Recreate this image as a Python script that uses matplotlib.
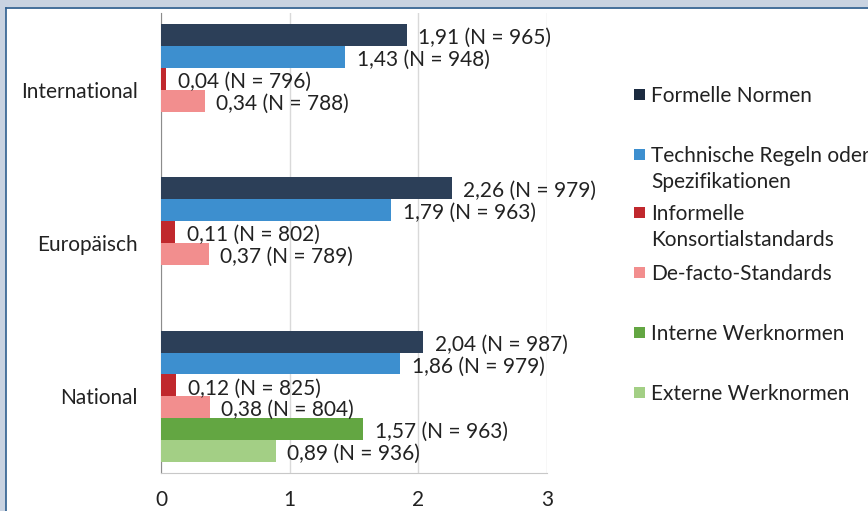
import numpy as np
import matplotlib.pyplot as plt
from matplotlib.patches import Rectangle

plt.rcParams['font.family'] = ['Lato', 'DejaVu Sans']

# Daten
gruppen = ['International', 'Europäisch', 'National']
serien = ['Formelle Normen', 'Technische Regeln oder\nSpezifikationen',
          'Informelle\nKonsortialstandards', 'De-facto-Standards',
          'Interne Werknormen', 'Externe Werknormen']
farben = ['#2c3f58', '#3d8fcf', '#c0282d', '#f28e8e', '#63a642', '#a3cf85']
legende_farben = ['#1c2b40', '#3d8fcf', '#c0282d', '#f28e8e', '#63a642', '#a3cf85']

formell = [1.91, 2.26, 2.04]
formell_n = [965, 979, 987]
technisch = [1.43, 1.79, 1.86]
technisch_n = [948, 963, 979]
informell = [0.04, 0.11, 0.12]
informell_n = [796, 802, 825]
defacto = [0.34, 0.37, 0.38]
defacto_n = [788, 789, 804]
intern = [None, None, 1.57]
intern_n = [None, None, 963]
extern = [None, None, 0.89]
extern_n = [None, None, 936]

werte = [formell, technisch, informell, defacto, intern, extern]
anzahl = [formell_n, technisch_n, informell_n, defacto_n, intern_n, extern_n]

textfarbe = '#222222'
fs = 15

fig = plt.figure(figsize=(8.68, 5.11), dpi=100)
fig.patch.set_facecolor('#c9d3e1')
# weisses Feld mit Rahmen
fig.add_artist(Rectangle((6/868, 0), 1, 1 - 9/511, transform=fig.transFigure,
                         facecolor='white', edgecolor='none', zorder=0))
fig.add_artist(plt.Line2D([6/868, 6/868], [0, 1 - 8.5/511], transform=fig.transFigure,
                          color='#2f5f8f', lw=1.2))
fig.add_artist(plt.Line2D([6/868, 1], [1 - 8.5/511, 1 - 8.5/511], transform=fig.transFigure,
                          color='#2f5f8f', lw=1.2))

ax = fig.add_axes([161/868, 1 - 473/511, 386/868, 460/511])
ax.set_facecolor('none')

h = 1 / 7
y = np.arange(len(gruppen))
for i, (vals, ns) in enumerate(zip(werte, anzahl)):
    for j in range(len(gruppen)):
        v = vals[j]
        if v is None:
            continue
        yy = y[j] - 3 * h + (i + 0.5) * h
        ax.barh(yy, v, height=h, color=farben[i], edgecolor='none', zorder=3)
        txt = f"{v:.2f}".replace('.', ',') + f" (N = {ns[j]})"
        ax.text(v + 0.09, yy + 0.02, txt, va='center', ha='left',
                fontsize=fs, color=textfarbe, zorder=4)

ax.set_xlim(0, 3)
ax.set_ylim(2.5, -0.5)
ax.set_xticks([0, 1, 2, 3])
ax.set_xticklabels(['0', '1', '2', '3'])
ax.set_yticks(y)
ax.set_yticklabels(gruppen)
ax.tick_params(axis='both', length=0, labelsize=fs, colors=textfarbe)
ax.tick_params(axis='x', pad=12)
ax.tick_params(axis='y', pad=16.5)
ax.grid(axis='x', color='#d9d9d9', lw=1, zorder=0)
ax.set_axisbelow(True)
for s in ['top', 'right']:
    ax.spines[s].set_visible(False)
ax.spines['left'].set_color('#8c8c8c')
ax.spines['bottom'].set_color('#c8c8c8')

# Legende (Grundlinie der ersten Zeile)
leg_y = [102, 162, 220, 280, 340, 400]
for lab, col, ly in zip(serien, legende_farben, leg_y):
    fig.add_artist(Rectangle((634/868, 1 - (ly - 2) / 511), 11/868, 11/511,
                             transform=fig.transFigure, facecolor=col, edgecolor='none'))
    for k, zeile in enumerate(lab.split('\n')):
        fig.text(651/868, 1 - (ly + 26 * k) / 511, zeile, ha='left', va='baseline',
                 fontsize=fs, color=textfarbe)

fig.savefig('out.png', dpi=100)
